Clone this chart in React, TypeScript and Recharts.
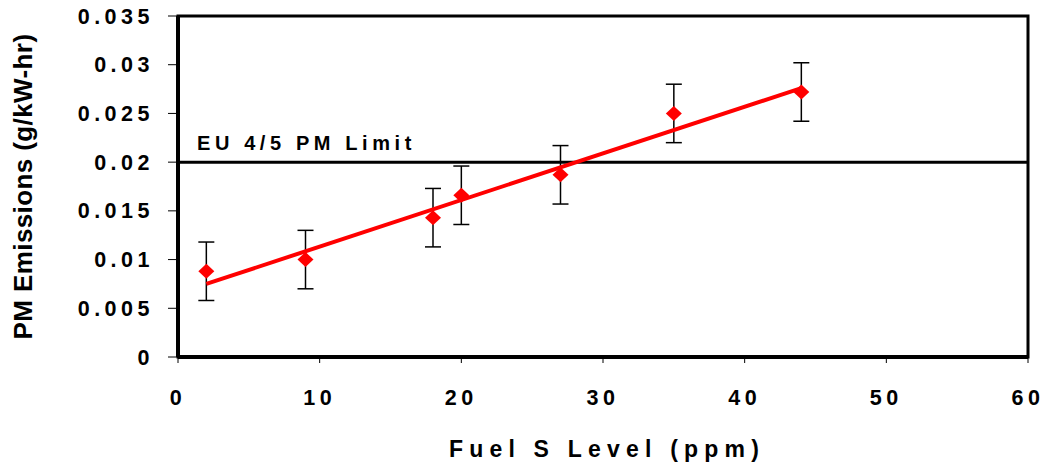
import {
  ScatterChart,
  Scatter,
  XAxis,
  YAxis,
  ErrorBar,
  ReferenceLine,
  ReferenceArea,
  Label,
} from "recharts";

const sulfurPpm = [2, 9, 18, 20, 27, 35, 44];
const pmEmissions = [0.0088, 0.01, 0.0143, 0.0166, 0.0187, 0.025, 0.0272];
const pmError = [0.003, 0.003, 0.003, 0.003, 0.003, 0.003, 0.003];

const trendX = [2, 44];
const trendY = [0.0075, 0.0276];

const euLimit = 0.02;

const xTicks = [0, 10, 20, 30, 40, 50, 60];
const yTicks = [0, 0.005, 0.01, 0.015, 0.02, 0.025, 0.03, 0.035];

const points = sulfurPpm.map((x, i) => ({ x, y: pmEmissions[i], err: pmError[i] }));
const trend = trendX.map((x, i) => ({ x, y: trendY[i] }));

const FONT = "'Liberation Sans', Arial, sans-serif";

const Diamond = (props: any) => {
  const { cx, cy } = props;
  if (cx == null || cy == null) return <g />;
  return (
    <polygon
      points={`${cx - 8},${cy} ${cx},${cy - 7.5} ${cx + 8},${cy} ${cx},${cy + 7.5}`}
      fill="#ff0000"
    />
  );
};

const tickStyle = {
  fontFamily: FONT,
  fontSize: 21.5,
  fontWeight: 700,
  fill: "#000",
  letterSpacing: 4.5,
};

export default function App() {
  return (
    <div style={{ position: "absolute", left: 0, top: 0, background: "#fff" }}>
      <ScatterChart
        width={1046}
        height={466}
        margin={{ top: 16, right: 18, left: 0, bottom: 0 }}
      >
        <ReferenceArea
          x1={0}
          x2={60}
          y1={0}
          y2={0.035}
          fill="none"
          stroke="#000"
          strokeWidth={3}
        />
        <XAxis
          type="number"
          dataKey="x"
          domain={[0, 60]}
          ticks={xTicks}
          height={109}
          axisLine={{ stroke: "#000", strokeWidth: 4 }}
          tickLine={{ stroke: "#000", strokeWidth: 1 }}
          tickSize={6}
          tickMargin={27}
          tick={tickStyle}
        >
          <Label
            content={({ viewBox }: any) => (
              <text
                x={viewBox.x + viewBox.width / 2 + 4}
                y={457}
                textAnchor="middle"
                fontFamily={FONT}
                fontSize={23}
                fontWeight={700}
                style={{ letterSpacing: 6.2 }}
              >
                Fuel S Level (ppm)
              </text>
            )}
          />
        </XAxis>
        <YAxis
          type="number"
          dataKey="y"
          domain={[0, 0.035]}
          ticks={yTicks}
          width={178}
          axisLine={{ stroke: "#000", strokeWidth: 4 }}
          tickLine={{ stroke: "#000", strokeWidth: 1 }}
          tickSize={10}
          tickMargin={14}
          tick={tickStyle}
        >
          <Label
            content={({ viewBox }: any) => {
              const cy = viewBox.y + viewBox.height / 2;
              return (
                <text
                  x={23}
                  y={cy}
                  transform={`rotate(-90, 23, ${cy})`}
                  textAnchor="middle"
                  dominantBaseline="central"
                  fontFamily={FONT}
                  fontSize={26}
                  fontWeight={700}
                  style={{ letterSpacing: 0.4 }}
                >
                  PM Emissions (g/kW-hr)
                </text>
              );
            }}
          />
        </YAxis>
        <ReferenceLine
          y={euLimit}
          stroke="#000"
          strokeWidth={3}
          label={({ viewBox }: any) => (
            <text
              x={viewBox.x + 19}
              y={viewBox.y - 12}
              fontFamily={FONT}
              fontSize={20}
              fontWeight={700}
              style={{ letterSpacing: 4.6 }}
            >
              EU 4/5 PM Limit
            </text>
          )}
        />
        <Scatter
          data={trend}
          line={{ stroke: "#ff0000", strokeWidth: 4 }}
          shape={() => <g />}
          isAnimationActive={false}
        />
        <Scatter data={points} shape={Diamond} isAnimationActive={false}>
          <ErrorBar
            dataKey="err"
            direction="y"
            width={8}
            stroke="#000"
            strokeWidth={1.5}
          />
        </Scatter>
      </ScatterChart>
    </div>
  );
}
